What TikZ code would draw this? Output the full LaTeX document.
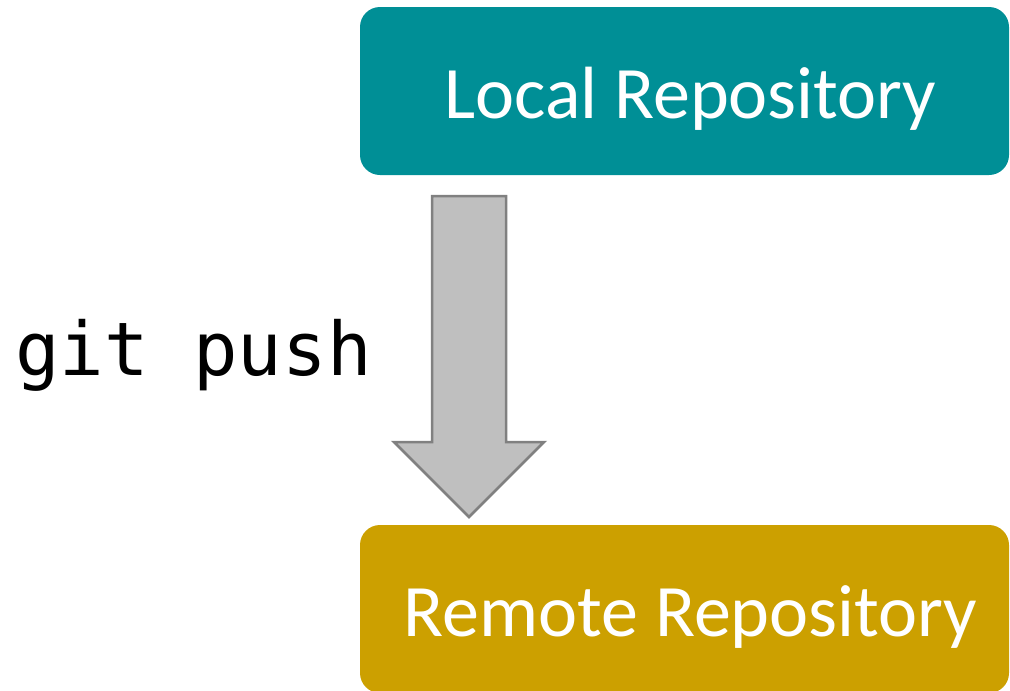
\documentclass[tikz,border=0pt]{standalone}
\usepackage{fontspec}
\setmainfont{Carlito}
\newfontfamily\codefont{DejaVu Sans Mono}
\definecolor{localteal}{RGB}{0,143,150}
\definecolor{remotegold}{RGB}{204,160,0}
\definecolor{arrowfill}{RGB}{191,191,191}
\definecolor{arrowline}{RGB}{128,128,128}
\begin{document}
\begin{tikzpicture}[x=1pt,y=-1pt,
  repobox/.style={rounded corners=20pt, inner sep=0pt,
    minimum width=649pt, minimum height=168pt},
  repolabel/.style={text=white, inner sep=0pt, font=\fontsize{74}{78}\selectfont},
  blockarrow/.style={fill=arrowfill, draw=arrowline, line width=2.5pt, line join=miter}]
\useasboundingbox (0,0) rectangle (1010,691);
\node[repobox, fill=localteal] (local) at (684.5,91) {};
\node[repolabel] (locallabel) at ([xshift=6pt,yshift=-8pt]local.center) {Local Repository};
\node[repobox, fill=remotegold] (remote) at (684.5,609) {};
\node[repolabel] (remotelabel) at ([xshift=6pt,yshift=-8pt]remote.center) {Remote Repository};
\coordinate (tail) at (469,196);
\coordinate (tip) at (469,517);
\draw[blockarrow] ([xshift=-37pt]tail) -- ([xshift=37pt]tail) -- ([xshift=37pt,yshift=75pt]tip)
  -- ([xshift=75pt,yshift=75pt]tip) -- (tip) -- ([xshift=-75pt,yshift=75pt]tip)
  -- ([xshift=-37pt,yshift=75pt]tip) -- cycle;
\node[anchor=base west, inner sep=0pt, font=\codefont\fontsize{74}{78}\selectfont] (cmd) at (15,375) {git push};
\end{tikzpicture}
\end{document}
